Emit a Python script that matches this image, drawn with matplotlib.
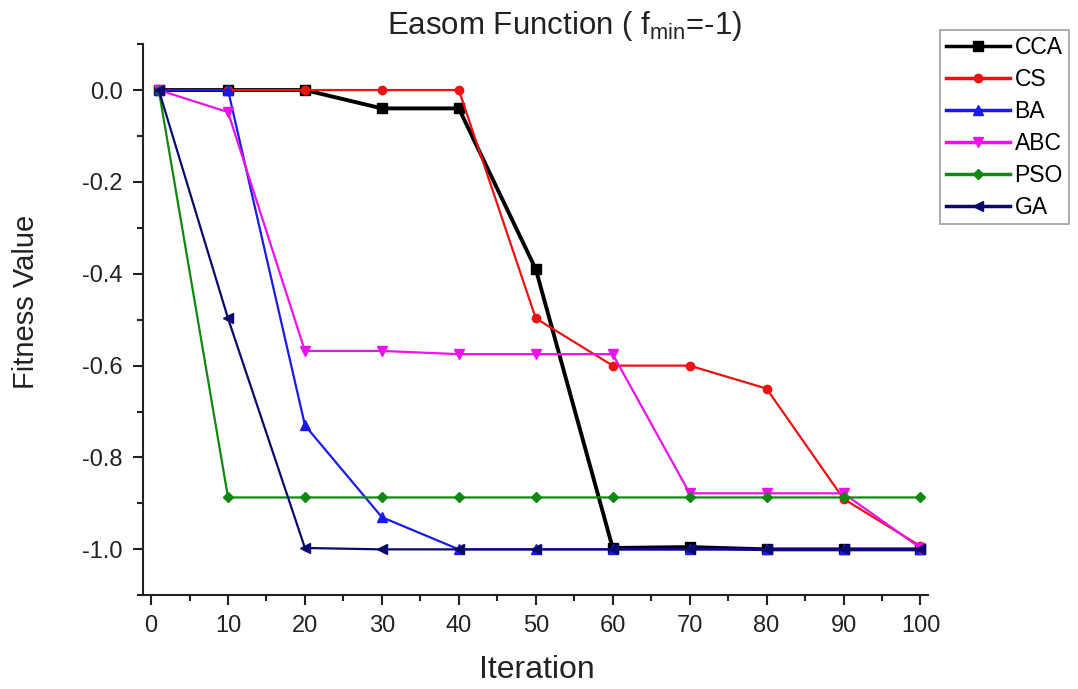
import matplotlib
matplotlib.use("Agg")
import matplotlib.pyplot as plt
from matplotlib.ticker import MultipleLocator

plt.rcParams['font.family'] = ['Liberation Sans', 'DejaVu Sans']
plt.rcParams['mathtext.fontset'] = 'custom'
plt.rcParams['mathtext.rm'] = 'Liberation Sans'
plt.rcParams['mathtext.it'] = 'Liberation Sans'
plt.rcParams['mathtext.default'] = 'regular'

iterations = [1, 10, 20, 30, 40, 50, 60, 70, 80, 90, 100]
cca = [0, 0, 0, -0.04, -0.04, -0.39, -0.997, -0.995, -1.0, -1.0, -1.0]
cs = [0, 0, 0, 0, 0, -0.497, -0.60, -0.60, -0.65, -0.89, -0.993]
ba = [0, 0, -0.73, -0.93, -1.0, -1.0, -1.0, -1.0, -1.0, -1.0, -1.0]
abc = [0, -0.048, -0.568, -0.568, -0.575, -0.575, -0.575, -0.878, -0.878, -0.878, -0.997]
pso = [0, -0.887, -0.887, -0.887, -0.887, -0.887, -0.887, -0.887, -0.887, -0.887, -0.887]
ga = [0, -0.497, -0.997, -1.0, -1.0, -1.0, -1.0, -1.0, -1.0, -1.0, -1.0]

series = [
    ("CCA", cca, "black", "s", 2.8, 6.5),
    ("CS", cs, "#ee1111", "o", 1.6, 6),
    ("BA", ba, "#1a1aee", "^", 1.6, 6.5),
    ("ABC", abc, "#ee11ee", "v", 1.6, 6.5),
    ("PSO", pso, "#118811", "D", 1.6, 5),
    ("GA", ga, "#0a0a6e", "<", 1.6, 6.5),
]

fig = plt.figure(figsize=(10.78, 6.89), dpi=100)
ax = fig.add_axes([0.133, 0.136, 0.728, 0.800])

for name, vals, col, mk, lw, ms in series:
    ax.plot(iterations, vals, color=col, marker=mk, lw=lw, ms=ms, label=name)

ax.set_xlim(-1, 101)
ax.set_ylim(-1.1, 0.1)
ax.xaxis.set_minor_locator(MultipleLocator(5))
ax.yaxis.set_minor_locator(MultipleLocator(0.1))
ax.set_xticks([0, 10, 20, 30, 40, 50, 60, 70, 80, 90, 100])
ax.set_yticks([0.0, -0.2, -0.4, -0.6, -0.8, -1.0])
ax.set_yticklabels(["0.0", "-0.2", "-0.4", "-0.6", "-0.8", "-1.0"])
ax.spines['top'].set_visible(False)
ax.spines['right'].set_visible(False)
for s in ['left', 'bottom']:
    ax.spines[s].set_linewidth(1.5)
    ax.spines[s].set_color('#222222')
ax.tick_params(axis='both', which='major', direction='out', length=7, width=1.5,
               labelsize=17, colors='#222222')
ax.tick_params(axis='y', which='major', pad=8)
ax.tick_params(axis='x', which='major', pad=7)
ax.tick_params(axis='both', which='minor', direction='out', length=4, width=1.5,
               colors='#222222')

fig.text(0.524, 0.962, "Easom Function ( f$_{min}$=-1)", ha='center', va='center',
         fontsize=22.5, color='#222222')
fig.text(0.498, 0.028, "Iteration", ha='center', va='center', fontsize=23, color='#222222')
fig.text(0.024, 0.562, "Fitness Value", ha='center', va='center', rotation=90,
         fontsize=21, color='#222222')

leg = fig.legend(loc='upper left', bbox_to_anchor=(0.872, 0.956), fontsize=16.5,
                 frameon=True, fancybox=False, edgecolor='#888888', handlelength=2.8,
                 labelspacing=0.39, borderpad=0.25, handletextpad=0.2, borderaxespad=0)
leg.get_frame().set_linewidth(1.2)
for line in leg.get_lines():
    line.set_linewidth(2.5)

fig.savefig("out.png", dpi=100)
